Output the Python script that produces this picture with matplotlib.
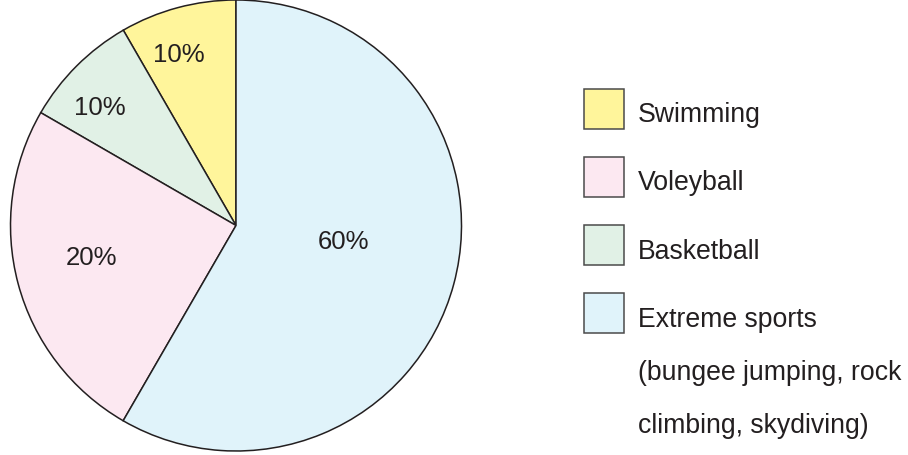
import matplotlib
matplotlib.use("Agg")
import matplotlib.pyplot as plt
from matplotlib.patches import Rectangle

plt.rcParams['font.family'] = ['Liberation Sans', 'DejaVu Sans']

# ---- data ----
categories = ["Swimming", "Voleyball", "Basketball",
              "Extreme sports\n(bungee jumping, rock\nclimbing, skydiving)"]
# drawn slice sizes (percent of the circle), in pie order from the top, counter-clockwise:
pie_categories = ["Swimming", "Basketball", "Voleyball", "Extreme sports"]
slice_shares = [8.33, 8.33, 25.0, 58.34]
slice_labels = ["10%", "10%", "20%", "60%"]        # printed labels
pie_colors = ["#FFF59B", "#E1F1E6", "#FCE8F1", "#E0F3FA"]
legend_colors = ["#FFF59B", "#FCE8F1", "#E1F1E6", "#E0F3FA"]

W, H = 908, 455
fig = plt.figure(figsize=(W / 100, H / 100), dpi=100)
fig.patch.set_facecolor("white")

def fx(x):
    return x / W

def fy(y):
    return 1 - y / H

# pie axes: centre (236,225.5), radius 225.5 px
cx, cy, r = 236.0, 225.5, 225.5
ax = fig.add_axes([fx(cx - r), fy(cy + r), 2 * r / W, 2 * r / H])
ax.set_axis_off()

wedges, _ = ax.pie(slice_shares, colors=pie_colors, startangle=90, counterclock=True,
                   wedgeprops=dict(edgecolor="#231F20", linewidth=1.1))
for w in wedges:
    w.set_clip_on(False)
ax.set_xlim(-1, 1)
ax.set_ylim(-1, 1)
ax.set_aspect("equal")

# label positions (axes data units)
label_pos = [(-0.255, 0.758), (-0.603, 0.519), (-0.639, -0.142), (0.477, -0.075)]
for (lx, ly), t in zip(label_pos, slice_labels):
    ax.text(lx, ly, t, ha="center", va="center", fontsize=18.5, color="#231F20")

# legend (manual)
sq_x, sq_w = 583.5, 40
sq_tops = [88.5, 156.8, 225.1, 293.4]
text_x = 638
base_off = 33.5
line_gap = 53
for top, c, lab in zip(sq_tops, legend_colors, categories):
    fig.patches.append(Rectangle((fx(sq_x), fy(top + sq_w)), sq_w / W, sq_w / H,
                                 transform=fig.transFigure, facecolor=c,
                                 edgecolor="#4a4a4a", linewidth=1.1))
    for i, line in enumerate(lab.split("\n")):
        yb = top + base_off + i * line_gap
        fig.text(fx(text_x), fy(yb), line, ha="left", va="baseline",
                 fontsize=19.2, color="#231F20")

fig.savefig("out.png", dpi=100, facecolor="white")
